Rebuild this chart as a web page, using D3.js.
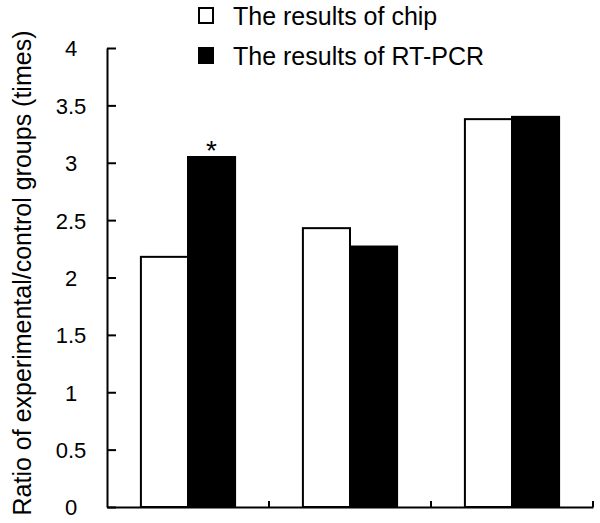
<html lang="en">
<head>
<meta charset="UTF-8">
<script src="https://d3js.org/d3.v7.min.js"></script>
<title>Chip vs RT-PCR</title>
<style>
  body { margin: 0; background: #fff; }
  text { font-family: "Liberation Sans", Arial, sans-serif; fill: #000; }
  .domain, .tick line { stroke: #000; stroke-width: 2; }
</style>
<script>
// data
var categories = ["gene1", "gene2", "gene3"];
var chipValues = [2.18, 2.43, 3.38];
var pcrValues = [3.05, 2.27, 3.40];
var seriesNames = ["The results of chip", "The results of RT-PCR"];
var yTicks = [0, 0.5, 1, 1.5, 2, 2.5, 3, 3.5, 4];
var starred = [{cat: "gene1", series: 1}];

function main(){
  var svg = d3.select("svg");
  var left = 107, right = 593, top = 48, bottom = 507;

  var x0 = d3.scaleBand().domain(categories).range([left, right]).padding(0);
  var x1 = d3.scaleBand().domain([0, 1]).range([0, x0.bandwidth()])
      .paddingInner(0).paddingOuter(0.72);
  var y = d3.scaleLinear().domain([0, 4]).range([bottom, top]);

  var rows = categories.map(function(c, i){ return {cat: c, vals: [chipValues[i], pcrValues[i]]}; });

  // bars
  var g = svg.selectAll(".grp").data(rows).enter().append("g")
      .attr("transform", function(d){ return "translate(" + x0(d.cat) + ",0)"; });
  g.selectAll("rect").data(function(d){ return d.vals.map(function(v, k){ return {k: k, v: v}; }); })
    .enter().append("rect")
      .attr("x", function(d){ return x1(d.k); })
      .attr("y", function(d){ return y(d.v); })
      .attr("width", x1.bandwidth())
      .attr("height", function(d){ return y(0) - y(d.v); })
      .attr("fill", function(d){ return d.k === 0 ? "#fff" : "#000"; })
      .attr("stroke", "#000")
      .attr("stroke-width", 2);

  // significance marks
  starred.forEach(function(s){
    var i = categories.indexOf(s.cat);
    var v = s.series === 0 ? chipValues[i] : pcrValues[i];
    svg.append("text")
      .attr("x", x0(s.cat) + x1(s.series) + x1.bandwidth() / 2)
      .attr("y", y(v) + 3)
      .attr("text-anchor", "middle")
      .style("font-size", "28px")
      .text("*");
  });

  // y axis
  var ya = svg.append("g").attr("transform", "translate(" + left + ",0)")
    .call(d3.axisLeft(y).tickValues(yTicks).tickFormat(d3.format("~g"))
      .tickSizeInner(-9).tickSizeOuter(0).tickPadding(36));
  ya.selectAll("text").attr("text-anchor", "middle").attr("dy", "0.36em").style("font-size", "22px");

  // x axis with ticks at band edges
  var xa = svg.append("g").attr("transform", "translate(0," + bottom + ")")
    .call(d3.axisBottom(x0).tickSize(0).tickFormat(""));
  xa.selectAll(".tick").remove();
  xa.selectAll(".edge").data(categories).enter().append("line")
      .attr("class", "edge")
      .attr("x1", function(d){ return x0(d) + x0.bandwidth(); })
      .attr("x2", function(d){ return x0(d) + x0.bandwidth(); })
      .attr("y1", 0).attr("y2", -6)
      .attr("stroke", "#000").attr("stroke-width", 2);

  // y label
  svg.append("text")
    .attr("transform", "translate(31,273) rotate(-90)")
    .attr("text-anchor", "middle")
    .style("font-size", "25px")
    .text("Ratio of experimental/control groups (times)");

  // legend
  var leg = svg.selectAll(".leg").data(seriesNames).enter().append("g")
      .attr("transform", function(d, i){ return "translate(199," + (8 + i * 40) + ")"; });
  leg.append("rect").attr("width", 14).attr("height", 15)
      .attr("fill", function(d, i){ return i === 0 ? "#fff" : "#000"; })
      .attr("stroke", "#000").attr("stroke-width", 2);
  leg.append("text").attr("x", 34).attr("y", 17)
      .style("font-size", "25px")
      .text(function(d){ return d; });
}
</script>
</head>
<body onload="main();">
  <svg width="600" height="523"></svg>
</body>
</html>
